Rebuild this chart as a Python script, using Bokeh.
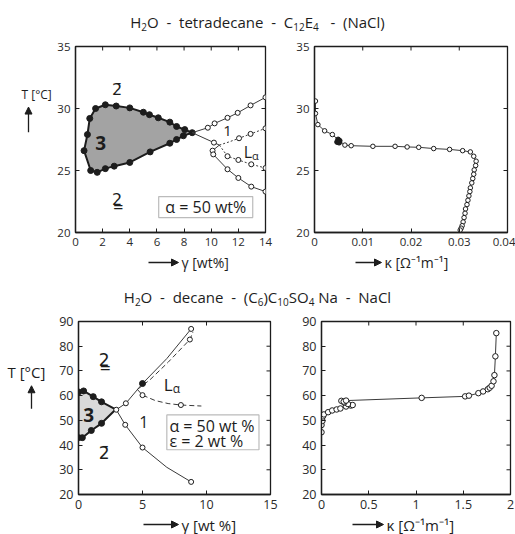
import math
from bokeh.plotting import figure
from bokeh.models import (Range1d, Label, Arrow, NormalHead, BoxAnnotation, Div, FixedTicker)
from bokeh.layouts import column, row
from bokeh.embed import file_html
from bokeh.resources import INLINE

FONT = "Open Sans"
SYM = "DejaVu Sans"
INK = "#1d1d1d"
LINE = "#3a3a3a"

# ---------------- data: H2O - tetradecane - C12E4 - (NaCl) ----------------
a_xticks = [0, 2, 4, 6, 8, 10, 12, 14]
a_xlabels = ["0", "2", "4", "6", "8", "10", "12", "14"]
a_yticks = [20, 25, 30, 35]
# three-phase region (closed polygon)
a3_x = [0.63, 0.88, 1.05, 1.48, 2.2, 3.0, 4.0, 5.0, 5.45, 6.1, 6.95, 7.45, 8.05, 8.6,
        7.95, 7.45, 6.95, 5.5, 4.0, 2.85, 2.2, 1.6, 1.12]
a3_T = [26.6, 27.9, 29.2, 30.0, 30.3, 30.2, 30.05, 29.7, 29.5, 29.25, 28.9, 28.55, 28.3, 28.05,
        27.8, 27.5, 27.2, 26.5, 25.65, 25.35, 25.15, 24.85, 25.0]
# one-phase boundaries
a_up_x = [8.6, 9.75, 10.25, 11.2, 11.95, 12.9, 14.0]
a_up_T = [28.05, 28.45, 28.8, 29.25, 29.65, 30.25, 30.9]
a_lo_x = [8.6, 10.2, 10.6, 10.1, 10.15, 11.2, 12.0, 12.95, 14.0]
a_lo_T = [28.05, 27.25, 27.05, 26.6, 26.3, 25.1, 24.4, 23.7, 23.3]
# L_alpha boundaries (dashed)
a_la_up_x = [10.6, 11.3, 12.05, 12.9, 14.0]
a_la_up_T = [27.05, 27.3, 27.6, 27.95, 28.4]
a_la_lo_x = [10.6, 11.2, 12.0, 12.95, 14.0]
a_la_lo_T = [27.05, 26.15, 25.85, 25.5, 25.2]

ka_xticks = [0, 0.01, 0.02, 0.03, 0.04]
ka_xlabels = ["0", "0.01", "0.02", "0.03", "0.04"]
ka_x = [0.0002, 0.0002, 0.0007, 0.0021, 0.0037, 0.0050, 0.0063, 0.0076, 0.0121, 0.0167,
        0.0192, 0.0216, 0.0247, 0.0280, 0.0307, 0.0323, 0.0330, 0.0335, 0.0334, 0.0331,
        0.0330, 0.0328, 0.0326, 0.0323, 0.0322, 0.0320, 0.0318, 0.0316, 0.0313, 0.0312,
        0.0310, 0.0308, 0.0306, 0.0304, 0.0302]
ka_T = [30.6, 29.6, 28.7, 28.2, 27.9, 27.45, 27.05, 27.0, 26.95, 26.95,
        26.9, 26.87, 26.77, 26.7, 26.6, 26.5, 26.15, 25.75, 25.4, 25.05,
        24.7, 24.35, 24.0, 23.6, 23.3, 22.95, 22.6, 22.25, 21.9, 21.55,
        21.2, 20.85, 20.55, 20.35, 20.2]
ka_fill_x = [0.0049, 0.0052, 0.0047, 0.0051]
ka_fill_T = [27.5, 27.4, 27.3, 27.25]

# ---------------- data: H2O - decane - (C6)C10SO4Na - NaCl ----------------
b_xticks = [0, 5, 10, 15]
b_xlabels = ["0", "5", "10", "15"]
b_yticks = [20, 30, 40, 50, 60, 70, 80, 90]
b3_x = [0.0, 0.0, 0.4, 1.15, 1.8, 2.9, 1.8, 1.0, 0.3]
b3_T = [43.0, 61.5, 61.9, 59.6, 57.5, 54.4, 48.8, 45.9, 43.0]
b_up_x = [2.95, 3.7, 5.0, 6.9, 8.8]
b_up_T = [54.3, 56.9, 64.9, 75.0, 87.0]
b_lo_x = [2.95, 3.65, 5.0, 6.9, 8.8]
b_lo_T = [54.3, 48.2, 39.0, 31.0, 25.1]
b_la_up_x = [4.6, 5.6, 7.0, 8.7, 8.95]
b_la_up_T = [62.5, 66.5, 73.5, 82.7, 85.8]
b_la_lo_x = [4.6, 5.0, 6.0, 7.0, 8.0, 9.6]
b_la_lo_T = [62.5, 60.2, 58.0, 56.8, 56.2, 55.8]

kb_xticks = [0, 0.5, 1, 1.5, 2]
kb_xlabels = ["0", "0.5", "1", "1.5", "2"]
kb_x = [0.0, 0.0, 0.01, 0.015, 0.025, 0.07, 0.113, 0.16, 0.2, 0.26, 0.31, 0.33, 0.28,
        0.24, 0.21, 0.235, 0.26, 1.06, 1.52, 1.56, 1.66, 1.71, 1.76, 1.78, 1.80, 1.82,
        1.83, 1.84, 1.85]
kb_T = [45.2, 48.1, 49.8, 51.6, 52.4, 53.3, 54.0, 54.4, 54.8, 55.6, 56.0, 56.2, 56.6,
        57.2, 57.9, 57.6, 58.0, 59.1, 59.7, 60.0, 61.0, 61.7, 62.6, 63.2, 64.0, 65.8,
        68.3, 75.9, 85.3]


def make_fig(width, height, xr, yr, borders, xticks, xlabels, yticks, fs):
    left, right, top, bottom = borders
    p = figure(width=width, height=height, x_range=Range1d(*xr), y_range=Range1d(*yr),
               toolbar_location=None, output_backend="svg",
               min_border_left=left, min_border_right=right,
               min_border_top=top, min_border_bottom=bottom)
    p.grid.visible = False
    p.outline_line_color = INK
    p.outline_line_width = 1.3
    p.xaxis.ticker = FixedTicker(ticks=xticks)
    p.yaxis.ticker = FixedTicker(ticks=yticks)
    p.xaxis.major_label_overrides = {t: s for t, s in zip(xticks, xlabels)}
    for ax in p.axis:
        ax.axis_line_color = INK
        ax.axis_line_width = 1.3
        ax.major_tick_in = 4
        ax.major_tick_out = 0
        ax.major_tick_line_color = INK
        ax.minor_tick_line_color = None
        ax.major_label_text_font = FONT
        ax.major_label_text_font_size = fs
        ax.major_label_text_color = "#2a2a2a"
        ax.major_label_standoff = 5
    # inward ticks on the top and right edges of the box (clipped to the frame)
    p.scatter(xticks, [yr[1]] * len(xticks), marker="dash", size=8, angle=math.pi / 2,
              line_color=INK, line_width=1)
    p.scatter([xr[1]] * len(yticks), yticks, marker="dash", size=8,
              line_color=INK, line_width=1)
    return p


def pad(width, height):
    p = figure(width=width, height=height, x_range=Range1d(0, width),
               y_range=Range1d(0, height), toolbar_location=None, output_backend="svg",
               x_axis_type=None, y_axis_type=None, min_border=0)
    p.outline_line_color = None
    p.grid.visible = False
    return p


def lab(p, x, y, text, size, align="center", font=FONT, style="normal"):
    p.add_layout(Label(x=x, y=y, text=text, text_font=font, text_font_size=size,
                       text_align=align, text_baseline="middle", text_color=INK,
                       text_font_style=style))


def arrow(p, x0, y0, x1, y1):
    p.add_layout(Arrow(end=NormalHead(size=7, line_color=INK, fill_color=INK),
                       x_start=x0, y_start=y0, x_end=x1, y_end=y1,
                       line_color=INK, line_width=1.3))


def open_pts(p, xs, ys, size=5):
    p.scatter(xs, ys, marker="circle", size=size, fill_color="white",
              line_color=INK, line_width=1)


# ---------------- top-left ----------------
f1 = make_fig(236, 215, (0, 14), (20, 35), (19, 25, 8, 20),
              a_xticks, a_xlabels, a_yticks, "11.5px")
f1.patch(a3_x, a3_T, fill_color="#a3a3a3", line_color=INK, line_width=2)
f1.scatter(a3_x, a3_T, size=6, color=INK)
f1.line(a_up_x, a_up_T, line_color=LINE, line_width=1)
open_pts(f1, a_up_x[1:], a_up_T[1:])
f1.line(a_lo_x, a_lo_T, line_color=LINE, line_width=1)
open_pts(f1, [v for i, v in enumerate(a_lo_x) if i not in (0, 2)],
         [v for i, v in enumerate(a_lo_T) if i not in (0, 2)])
f1.line(a_la_up_x, a_la_up_T, line_color=LINE, line_width=1, line_dash="2 2")
open_pts(f1, a_la_up_x[2:], a_la_up_T[2:])
f1.line(a_la_lo_x, a_la_lo_T, line_color=LINE, line_width=1, line_dash="2 2")
open_pts(f1, a_la_lo_x[1:], a_la_lo_T[1:])
lab(f1, 3.07, 31.5, "2\u0304", "16px", font=SYM)
lab(f1, 1.85, 27.2, "3", "19px", style="bold")
lab(f1, 3.07, 22.7, "2\u0333", "16px", font=SYM)
lab(f1, 11.2, 28.15, "1", "15px")
lab(f1, 12.7, 26.5, "L", "16px")
lab(f1, 13.25, 26.25, "\u03b1", "11px")
f1.add_layout(BoxAnnotation(left=6.13, right=13.06, bottom=21.2, top=22.9,
                            fill_color="white", fill_alpha=1, line_color=INK, line_width=1.2))
lab(f1, 9.6, 22.05, "\u03b1 = 50 wt%", "16px")

# ---------------- top-right ----------------
f2 = make_fig(225, 215, (0, 0.04), (20, 35), (24, 8, 6, 21),
              ka_xticks, ka_xlabels, a_yticks, "11.5px")
f2.line(ka_x, ka_T, line_color=LINE, line_width=1)
open_pts(f2, ka_x, ka_T, size=4.5)
f2.scatter(ka_fill_x, ka_fill_T, size=5, color=INK)

# ---------------- bottom-left ----------------
f3 = make_fig(240, 210, (0, 15), (20, 90), (23, 25, 15, 21),
              b_xticks, b_xlabels, b_yticks, "12.5px")
f3.patch(b3_x, b3_T, fill_color="#d9d9d9", line_color=INK, line_width=2)
f3.scatter(b3_x[:5] + b3_x[6:], b3_T[:5] + b3_T[6:], size=6, color=INK)
f3.line(b_up_x, b_up_T, line_color=LINE, line_width=1)
f3.line(b_lo_x, b_lo_T, line_color=LINE, line_width=1)
f3.line(b_la_up_x, b_la_up_T, line_color=LINE, line_width=1, line_dash="5 3")
f3.line(b_la_lo_x, b_la_lo_T, line_color=LINE, line_width=1, line_dash="5 3")
open_pts(f3, [b_up_x[0], b_up_x[1], b_up_x[4]], [b_up_T[0], b_up_T[1], b_up_T[4]])
f3.scatter([b_up_x[2]], [b_up_T[2]], size=6, color=INK)
open_pts(f3, [b_lo_x[1], b_lo_x[2], b_lo_x[4]], [b_lo_T[1], b_lo_T[2], b_lo_T[4]])
open_pts(f3, [b_la_up_x[3]], [b_la_up_T[3]])
open_pts(f3, [b_la_lo_x[1], b_la_lo_x[4]], [b_la_lo_T[1], b_la_lo_T[4]])
lab(f3, 2.0, 74.3, "2\u0333", "17px", font=SYM)
lab(f3, 0.8, 52.2, "3", "19px", style="bold")
lab(f3, 2.0, 36.8, "2\u0304", "17px", font=SYM)
lab(f3, 5.1, 49.5, "1", "16px")
lab(f3, 7.0, 64.5, "L", "17px")
lab(f3, 7.65, 62.8, "\u03b1", "12px")
f3.add_layout(BoxAnnotation(left=6.9, right=14.1, bottom=38.1, top=52.2,
                            fill_color="white", fill_alpha=1, line_color=INK, line_width=1.2))
lab(f3, 7.1, 47.6, "\u03b1 = 50 wt %", "16px", align="left")
lab(f3, 7.1, 41.5, "\u03b5 = 2 wt %", "16px", align="left")

# ---------------- bottom-right ----------------
f4 = make_fig(220, 210, (0, 2), (20, 90), (26, 5, 12, 22),
              kb_xticks, kb_xlabels, b_yticks, "12.5px")
f4.line(kb_x, kb_T, line_color=LINE, line_width=1)
open_pts(f4, kb_x, kb_T, size=5.5)

# ---------------- axis titles (in side strips, pixel coordinates) ----------------
ylab1 = pad(54, 215)
lab(ylab1, 21, 159, "T [\u00b0C]", "12px", align="left")
arrow(ylab1, 28, 116, 28, 145)
xlab1 = pad(290, 19)
arrow(xlab1, 148, 10, 178, 10)
lab(xlab1, 181, 10, "\u03b3 [wt%]", "14px", align="left")
xlab2 = pad(225, 19)
arrow(xlab2, 65, 10, 91, 10)
lab(xlab2, 94, 10, "\u03ba [\u03a9\u207b\u00b9m\u207b\u00b9]", "14px", align="left")

ylab3 = pad(55, 210)
lab(ylab3, 7, 149, "T [\u00b0C]", "15px", align="left")
arrow(ylab3, 31, 104, 31, 132)
xlab3 = pad(295, 18)
arrow(xlab3, 143, 10, 178, 10)
lab(xlab3, 181, 10, "\u03b3 [wt %]", "15px", align="left")
xlab4 = pad(220, 18)
arrow(xlab4, 57, 10, 88, 10)
lab(xlab4, 91, 10, "\u03ba [\u03a9\u207b\u00b9m\u207b\u00b9]", "15px", align="left")

SUB = '<sub style="font-size:10px;vertical-align:-3px;line-height:0">'
t1 = Div(text=('<div style="font-family:\'Open Sans\';font-size:15px;color:#1d1d1d;'
               'line-height:20px;padding-top:12px;padding-left:41px;width:474px;'
               'text-align:center;white-space:nowrap">'
               'H' + SUB + '2</sub>O &nbsp;-&nbsp; tetradecane &nbsp;-&nbsp; C' + SUB + '12</sub>E'
               + SUB + '4</sub> &nbsp;&nbsp;-&nbsp; (NaCl)</div>'),
         width=515, height=38, margin=(0, 0, 0, 0))
t2 = Div(text=('<div style="font-family:\'Open Sans\';font-size:15px;color:#1d1d1d;'
               'line-height:20px;padding-top:15px;padding-left:67px;width:448px;'
               'text-align:center;white-space:nowrap">'
               'H' + SUB + '2</sub>O &nbsp;-&nbsp; decane &nbsp;-&nbsp; (C' + SUB + '6</sub>)C'
               + SUB + '10</sub>SO' + SUB + '4</sub> Na &nbsp;-&nbsp; NaCl</div>'),
         width=515, height=34, margin=(0, 0, 0, 0))

layout = column(t1, row(ylab1, f1, f2), row(xlab1, xlab2), t2,
                row(ylab3, f3, f4), row(xlab3, xlab4))
open("out.html", "w").write(file_html(layout, INLINE))
